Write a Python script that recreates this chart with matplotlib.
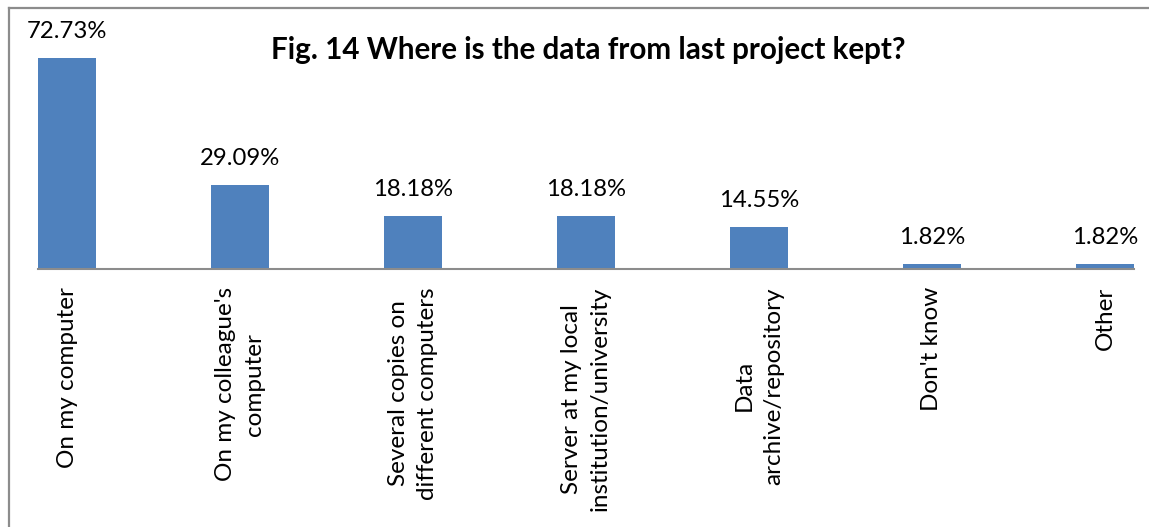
import matplotlib.pyplot as plt
from matplotlib.lines import Line2D

categories = ['On my computer', "On my colleague's\ncomputer", 'Several copies on\ndifferent computers',
              'Server at my local\ninstitution/university', 'Data\narchive/repository', "Don't know", 'Other']
values = [72.73, 29.09, 18.18, 18.18, 14.55, 1.82, 1.82]

BAR_COLOR = '#4F81BD'
AXIS_COLOR = '#8c8c8c'
FONT = ['Lato', 'DejaVu Sans']

fig = plt.figure(figsize=(11.49, 5.27), dpi=100)
W, H = 1149, 527

# axes placed in pixel terms of the reference
ax = fig.add_axes([38 / W, (H - 269) / H, (1134 - 38) / W, 249 / H])

bar_w = 58 / 173
x = list(range(len(categories)))
ax.bar(x, values, width=bar_w, color=BAR_COLOR)
ax.set_xlim(-bar_w / 2, len(categories) - 1 + bar_w / 2)
ax.set_ylim(0, 249 / 2.901)

for xi, v in zip(x, values):
    ax.annotate('%.2f%%' % v, (xi, v), xytext=(0, 19), textcoords='offset points',
                ha='center', va='center', fontsize=17.2, family=FONT, color='black')

for s in ['top', 'right', 'left']:
    ax.spines[s].set_visible(False)
ax.spines['bottom'].set_color(AXIS_COLOR)
ax.spines['bottom'].set_linewidth(1.5)
ax.set_yticks([])
ax.set_xticks(x)
ax.set_xticklabels(categories, rotation=90, ha='center', va='top', multialignment='center',
                   fontsize=17.5, family=FONT, linespacing=1.45)
ax.tick_params(axis='x', length=0, pad=13)

fig.text(588 / W, 1 - 50 / H, 'Fig. 14 Where is the data from last project kept?',
         ha='center', va='center', fontsize=21.3, fontweight='bold', family=FONT)

# outer chart border (left and top edges visible)
fig.add_artist(Line2D([8.5 / W, 8.5 / W], [0, 1 - 7.5 / H], transform=fig.transFigure,
                      color=AXIS_COLOR, lw=1.6))
fig.add_artist(Line2D([8.5 / W, 1], [1 - 7.5 / H, 1 - 7.5 / H], transform=fig.transFigure,
                      color=AXIS_COLOR, lw=1.6))

fig.savefig('out.png', dpi=100)
